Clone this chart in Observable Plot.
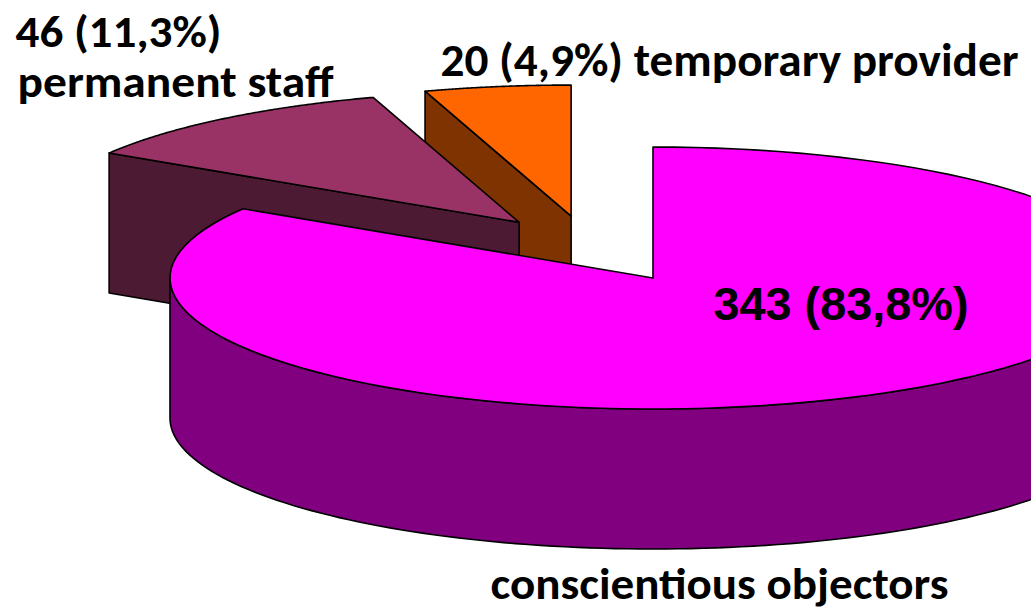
<!DOCTYPE html>
<html>
<head>
<meta charset="utf-8">
<script src="https://cdn.jsdelivr.net/npm/d3@7"></script>
<script src="https://cdn.jsdelivr.net/npm/@observablehq/plot@0.6"></script>
<style>
  html, body { margin: 0; padding: 0; background: #ffffff; }
  #chart svg { display: block; }
</style>
</head>
<body>
<div id="chart"></div>
<script>
// ---------- data ----------
const categories = ["conscientious objectors", "permanent staff", "temporary provider"];
const values = [343, 46, 20];
const percentLabels = ["83,8%", "11,3%", "4,9%"];

// ---------- style ----------
const topColors = ["#ff00ff", "#993366", "#ff6600"];
const sideColors = ["#800080", "#4c1a33", "#7f3300"];
const explode = [0.275, 0.234, 0.235];

// ---------- layout ----------
const W = 1031, H = 611;
const geom = {cx: 588, cy: 246, rx: 483, ry: 131, depth: 140};

const total = d3.sum(values);
let acc = 0;
const slices = values.map((v, i) => {
  const a0 = acc / total * 2 * Math.PI;
  acc += v;
  const a1 = acc / total * 2 * Math.PI;
  const mid = (a0 + a1) / 2;
  return {
    i, a0, a1, mid,
    ox: geom.rx * explode[i] * Math.sin(mid),
    oy: -geom.ry * explode[i] * Math.cos(mid)
  };
});

function pt(s, a, z) {
  return {x: geom.cx + s.ox + geom.rx * Math.sin(a), y: geom.cy + s.oy - geom.ry * Math.cos(a) + z * geom.depth};
}
function center(s, z) {
  return {x: geom.cx + s.ox, y: geom.cy + s.oy + z * geom.depth};
}
function arc(s, a0, a1, z, n = 120) {
  const pts = [];
  for (let k = 0; k <= n; k++) pts.push(pt(s, a0 + (a1 - a0) * k / n, z));
  return pts;
}

// faces, back to front
const faces = [];
const order = slices.slice().sort((a, b) => center(a, 0).y - center(b, 0).y);
for (const s of order) {
  if (Math.sin(s.a0) < -1e-6) {
    faces.push({fill: sideColors[s.i], points: [center(s, 0), pt(s, s.a0, 0), pt(s, s.a0, 1), center(s, 1)]});
  }
  if (Math.sin(s.a1) > 1e-6) {
    faces.push({fill: sideColors[s.i], points: [center(s, 0), pt(s, s.a1, 0), pt(s, s.a1, 1), center(s, 1)]});
  }
  const lo = Math.max(Math.PI / 2, s.a0), hi = Math.min(3 * Math.PI / 2, s.a1);
  if (hi > lo) {
    faces.push({fill: sideColors[s.i], points: [...arc(s, lo, hi, 0), ...arc(s, hi, lo, 1)]});
  }
  faces.push({fill: topColors[s.i], points: [center(s, 0), ...arc(s, s.a0, s.a1, 0)]});
}

// labels (text from data, positions from layout)
const font = "Carlito, Lato, 'Open Sans', sans-serif";
const labels = [
  {text: `${values[1]} (${percentLabels[1]})`, x: 15, base: 46, size: 45, width: 206, font},
  {text: categories[1], x: 17, base: 96, size: 45, width: 316, font},
  {text: `${values[2]} (${percentLabels[2]}) ${categories[2]}`, x: 440, base: 75, size: 46, width: 578, font},
  {text: `${values[0]} (${percentLabels[0]})`, x: 713, base: 319, size: 46, width: 255, font: "'Liberation Sans', Arial, sans-serif"},
  {text: categories[0], x: 490, base: 598, size: 45, width: 458, font}
];

const marks = faces.map(f => Plot.line(f.points, {
  x: "x", y: "y", fill: f.fill, stroke: "#000000", strokeWidth: 1.6,
  strokeLinejoin: "round", curve: "linear-closed", clip: true
}));
for (const l of labels) {
  marks.push(Plot.text([l], {
    x: "x", y: d => d.base - 0.32 * d.size, text: "text",
    textAnchor: "start", lineAnchor: "middle",
    fontSize: l.size, fontWeight: "bold", fontFamily: l.font, fill: "#000000"
  }));
}

const svg = Plot.plot({
  width: W, height: H, margin: 0,
  x: {domain: [0, W], range: [0, W], axis: null},
  y: {domain: [0, H], range: [0, H], axis: null},
  style: {background: "#ffffff"},
  marks
});

const fit = Object.fromEntries(labels.map(l => [l.text, l.width]));
d3.select(svg).selectAll("text").each(function () {
  const t = this.textContent;
  if (fit[t]) {
    this.setAttribute("textLength", fit[t]);
    this.setAttribute("lengthAdjust", "spacingAndGlyphs");
  }
});
document.getElementById("chart").appendChild(svg);
</script>
</body>
</html>
